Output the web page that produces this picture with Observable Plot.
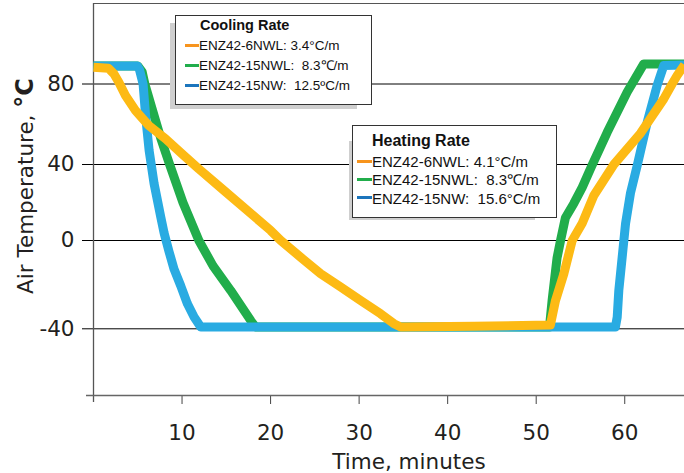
<!DOCTYPE html>
<html>
<head>
<meta charset="utf-8">
<script src="https://cdn.jsdelivr.net/npm/d3@7"></script>
<script src="https://cdn.jsdelivr.net/npm/@observablehq/plot@0.6"></script>
<style>
  html, body { margin: 0; padding: 0; background: #fff; }
  #wrap { position: relative; width: 684px; height: 473px; overflow: hidden; }
  #wrap svg { position: absolute; left: 0; top: 0; }
  .shadow { position: absolute; background: #cfcfcf; }
  .box { position: absolute; background: #fff; border: 1px solid #333; box-sizing: border-box; }
  .ltxt { position: absolute; white-space: pre; font-family: "Liberation Sans", Arial, sans-serif; color: #111; line-height: 1; }
  .sw { position: absolute; height: 3px; }
</style>
</head>
<body>
<div id="wrap"></div>
<script>
// ---------- data ----------
// ENZ42-6NWL (yellow)
const nwl6Time = [0, 1.7, 2.3, 2.86, 3.61, 4.74, 6.24, 8.13, 10.0, 11.89, 14.74, 20.0, 21.15, 23.4, 25.66, 27.92, 30.17, 32.43, 33.93, 34.7, 43, 51.6, 52.18, 53.12, 54.07, 55.2, 56.51, 58.77, 61.78, 64.41, 65.35, 65.92, 66.75];
const nwl6Temp = [88.3, 87.8, 85.1, 80.9, 74.3, 66.8, 59.4, 52.8, 45.3, 37.7, 26.3, 5.3, 0, -7.6, -15.1, -21.1, -27.2, -33.2, -37.7, -39.2, -38.8, -38.3, -27.2, -15.1, 0, 9.1, 23.7, 40, 55.5, 72.6, 80, 84.2, 89.5];
// ENZ42-15NWL (green)
const nwl15Time = [0, 5.0, 5.5, 5.8, 6.6, 7.6, 8.6, 10.1, 11.9, 13.5, 15.5, 17.8, 18.3, 51.5, 51.8, 52.35, 52.75, 53.3, 54.25, 55.2, 56.3, 58.02, 60.28, 62.15, 66.75];
const nwl15Temp = [89, 89, 86, 80, 68, 53, 40, 20, 0, -11.5, -22.7, -36.5, -39.2, -39.2, -27, -8, 0, 12, 19.5, 28, 39.5, 56, 76, 90, 90];
// ENZ42-15NW (blue)
const nw15Time = [0, 4.95, 5.2, 5.6, 5.9, 6.28, 6.84, 7.6, 7.97, 8.53, 9.1, 9.85, 10.61, 11.36, 12.11, 58.95, 59.15, 59.33, 59.71, 60.09, 60.65, 61.41, 62.54, 63.66, 64.41, 66.75];
const nw15Temp = [89, 89, 87, 80, 63.5, 47, 30, 12.3, 4, -5, -13, -20.5, -28.7, -34.7, -39.2, -39.2, -34.7, -22.7, -7.6, 8.8, 25, 39.5, 61, 79.3, 89.2, 89.5];

const lineColors = {nwl6: "#FDBA14", nwl15: "#21AD4B", nw15: "#29ABE2"};
const swatchColors = ["#F7941D", "#21AD4B", "#1C75BC"];

const xTicks = [10, 20, 30, 40, 50, 60];
const yTicks = [-40, 0, 40, 80];
const xDomain = [0, 66.75];

const xTitle = "Time, minutes";
const yTitle = "Air Temperature, ";
const yTitleUnit = "°C";

const coolingTitle = "Cooling Rate";
const coolingLabels = ["ENZ42-6NWL: 3.4°C/m", "ENZ42-15NWL:  8.3℃/m", "ENZ42-15NW:  12.5ºC/m"];
const heatingTitle = "Heating Rate";
const heatingLabels = ["ENZ42-6NWL: 4.1°C/m", "ENZ42-15NWL:  8.3℃/m", "ENZ42-15NW:  15.6°C/m"];

// ---------- scale warp ----------
// The reference's gridlines are unevenly spaced; warp temperatures through the
// gridline rows measured in the reference so the y scale reproduces them.
const W = 684, H = 473, mTop = 3, mBottom = 78, mLeft = 93;
const gridRows = [328.3, 240, 164, 83.5];
const warp = d3.scaleLinear().domain(yTicks).range(gridRows.map(p => -p));
const yLow = warp.invert(-(H - mBottom));
const yHigh = warp.invert(-mTop);

// ---------- build ----------
const toRows = (ts, vs) => ts.map((t, i) => ({t, v: vs[i]}));
const nwl6 = toRows(nwl6Time, nwl6Temp);
const nwl15 = toRows(nwl15Time, nwl15Temp);
const nw15 = toRows(nw15Time, nw15Temp);

const lineOpts = {x: "t", y: "v", strokeWidth: 9, strokeLinejoin: "round", strokeLinecap: "butt"};

const chart = Plot.plot({
  width: W,
  height: H,
  marginLeft: mLeft,
  marginRight: 0,
  marginTop: mTop,
  marginBottom: mBottom,
  x: {domain: xDomain},
  y: {type: "linear", transform: warp, domain: [warp(yLow), warp(yHigh)]},
  style: {fontFamily: "'DejaVu Sans', sans-serif", fontSize: "21.5px", color: "#231f20", background: "transparent", overflow: "visible"},
  marks: [
    Plot.gridY(yTicks, {stroke: "#000", strokeOpacity: 1, strokeWidth: 1}),
    Plot.axisY(yTicks, {tickSize: 11, tickPadding: 8, label: null, fontSize: 21.5, stroke: "#000", tickFormat: d => String(d)}),
    Plot.axisX(xTicks, {tickSize: 9, tickPadding: 20, label: null, fontSize: 21.5, stroke: "#444"}),
    Plot.ruleX([xDomain[0]], {stroke: "#555", strokeWidth: 1.3, insetBottom: -7}),
    Plot.ruleY([yLow], {stroke: "#666", strokeWidth: 1.3, insetLeft: -7}),
    Plot.ruleY([yHigh], {stroke: "#555", strokeWidth: 1}),
    Plot.line(nwl15, {...lineOpts, stroke: lineColors.nwl15}),
    Plot.line(nw15, {...lineOpts, stroke: lineColors.nw15}),
    Plot.line(nwl6, {...lineOpts, stroke: lineColors.nwl6})
  ]
});

const wrap = document.getElementById("wrap");
wrap.appendChild(chart);

// axis titles
const svg = d3.select(chart);
svg.append("text")
  .attr("x", 409).attr("y", 469)
  .attr("text-anchor", "middle")
  .attr("font-family", "'DejaVu Sans', sans-serif")
  .attr("font-size", 21.5)
  .attr("fill", "#231f20")
  .text(xTitle);
const yt = svg.append("text")
  .attr("transform", "translate(33,186) rotate(-90)")
  .attr("text-anchor", "middle")
  .attr("font-family", "'DejaVu Sans', sans-serif")
  .attr("font-size", 21.5)
  .attr("fill", "#231f20");
yt.append("tspan").text(yTitle);
yt.append("tspan").attr("font-weight", "bold").attr("font-size", 24).text(yTitleUnit);

// legends (HTML boxes over the chart)
function addDiv(cls, style, text) {
  const d = document.createElement("div");
  d.className = cls;
  Object.assign(d.style, style);
  if (text != null) d.textContent = text;
  wrap.appendChild(d);
  return d;
}
function legend(cfg) {
  addDiv("shadow", {left: cfg.shadow[0] + "px", top: cfg.shadow[1] + "px", width: cfg.shadow[2] + "px", height: cfg.shadow[3] + "px"});
  addDiv("box", {left: cfg.box[0] + "px", top: cfg.box[1] + "px", width: cfg.box[2] + "px", height: cfg.box[3] + "px"});
  addDiv("ltxt", {left: cfg.titleX + "px", top: (cfg.titleBase - 0.8465 * cfg.titleSize) + "px", fontSize: cfg.titleSize + "px", fontWeight: "bold"}, cfg.title);
  cfg.labels.forEach((lab, i) => {
    const b = cfg.firstBase + i * cfg.step;
    addDiv("sw", {left: cfg.swX + "px", width: (cfg.textX - cfg.swX) + "px", top: (b - 0.36 * cfg.size - 1.5) + "px", background: swatchColors[i]});
    addDiv("ltxt", {left: cfg.textX + "px", top: (b - 0.8465 * cfg.size) + "px", fontSize: cfg.size + "px"}, lab);
  });
}
legend({shadow: [170, 23, 187, 86], box: [175, 15, 197, 90], title: coolingTitle, titleX: 200, titleBase: 30.7, titleSize: 14.5,
        labels: coolingLabels, size: 13.5, firstBase: 50, step: 20, swX: 185, textX: 199});
legend({shadow: [348.5, 141, 186, 79], box: [352, 125, 205, 93], title: heatingTitle, titleX: 372, titleBase: 146.7, titleSize: 16,
        labels: heatingLabels, size: 15, firstBase: 166.7, step: 18.3, swX: 357, textX: 372});
</script>
</body>
</html>
